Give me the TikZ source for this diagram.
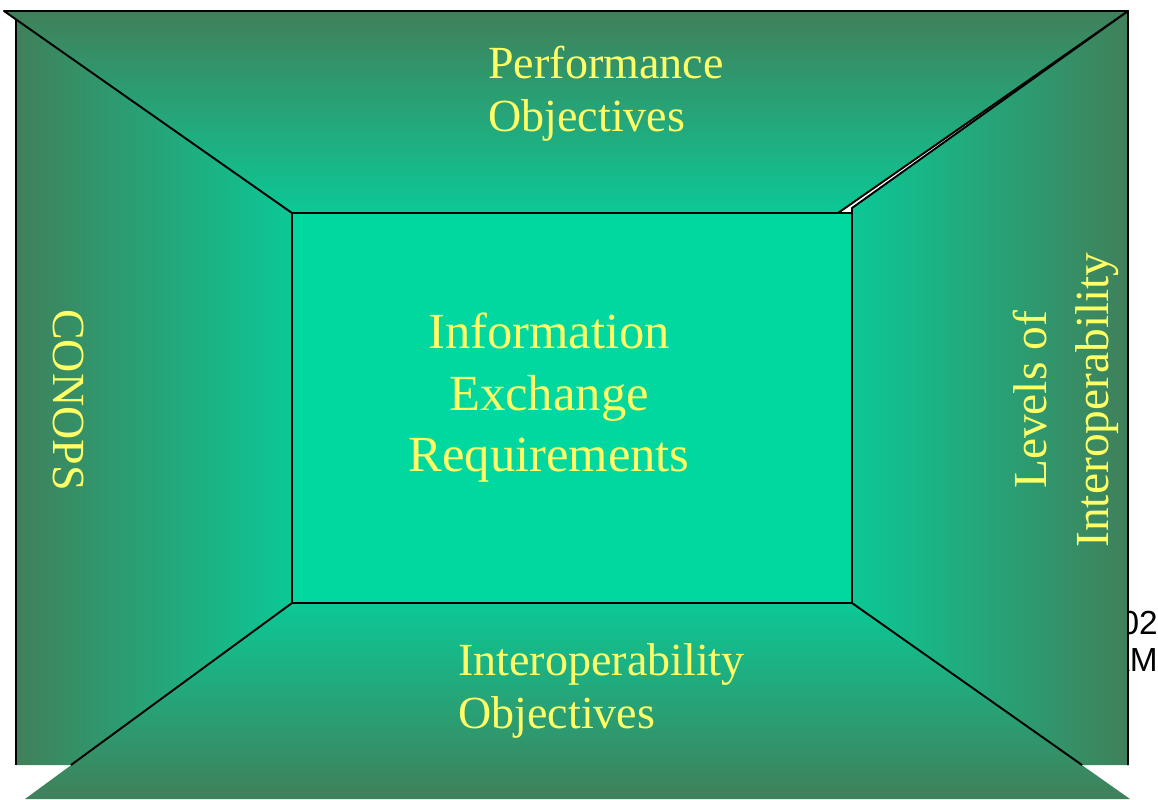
\documentclass[tikz,border=0pt]{standalone}
\usepackage{fontspec}
\setmainfont{Liberation Serif}
\newfontfamily\stampfont{Liberation Sans}
\usepackage{tikz}
\usetikzlibrary{positioning}
\definecolor{rmdark}{HTML}{40805A}
\definecolor{rmlight}{HTML}{0CC896}
\definecolor{rmcore}{HTML}{00D8A0}
\definecolor{rmtext}{HTML}{FFFF66}
\tikzset{
  edge/.style={draw=black,line width=1.1pt,line join=round},
  walltext/.style={text=rmtext,inner sep=0pt,font=\fontsize{26.2}{30}\selectfont},
  coretext/.style={text=rmtext,inner sep=0pt,align=center,
                   font=\fontsize{28.8}{35}\selectfont},
}

\begin{document}
\begin{tikzpicture}[x=0.02cm,y=-0.02cm]
  \useasboundingbox (0,0) rectangle (1158,799);
  % back wall corners
  \coordinate (tl) at (292,213);
  \coordinate (tr) at (852,213);
  \coordinate (bl) at (292,603);
  \coordinate (br) at (852,603);

  % date stamp, mostly hidden under the right wall
  \node[anchor=north east,inner sep=0pt,align=right,
        font=\stampfont\fontsize{19}{21}\selectfont] (stamp) at (1158,611) {02\\AM};

  % left wall
  \shade[left color=rmdark,right color=rmlight]
    (16,19) -- (tl) -- (bl) -- (71,765) -- (16,765) -- cycle;
  \draw[edge] (16,19) -- (16,765);
  % right wall
  \shade[left color=rmlight,right color=rmdark]
    (1128,11) -- (852,208) -- (br) -- (1082,765) -- (1128,765) -- cycle;
  \draw[edge] (852,213) -- (852,208) -- (1128,11) -- (1128,765);
  % ceiling
  \shade[top color=rmdark,bottom color=rmlight]
    (4,11) -- (1128,11) -- (838,213) -- (tl) -- cycle;
  \draw[edge] (tl) -- (4,11) -- (1128,11) -- (838,213) -- (tl);
  % floor
  \shade[top color=rmlight,bottom color=rmdark]
    (bl) -- (br) -- (1130,799) -- (25,799) -- cycle;
  \draw[edge] (bl) -- (71,765);
  \draw[edge] (br) -- (1082,765);
  % back wall
  \draw[edge,fill=rmcore] (tl) rectangle (br);

  \node[walltext,anchor=north west,align=left] (perf) at (488,46)
    {Performance\\Objectives};
  \node[walltext,anchor=north west,align=left,font=\fontsize{26.2}{30.5}\selectfont]
    (interop) at (458,643) {Interoperability\\Objectives};
  \node[walltext,rotate=-90] (conops) at (69,400) {CONOPS};
  \node[walltext,rotate=90,align=center,font=\fontsize{27}{35}\selectfont]
    (levels) at (1066,400) {Levels of\\Interoperability};
  \node[coretext] (ier) at (549,398) {Information\\Exchange\\Requirements};
\end{tikzpicture}
\end{document}
